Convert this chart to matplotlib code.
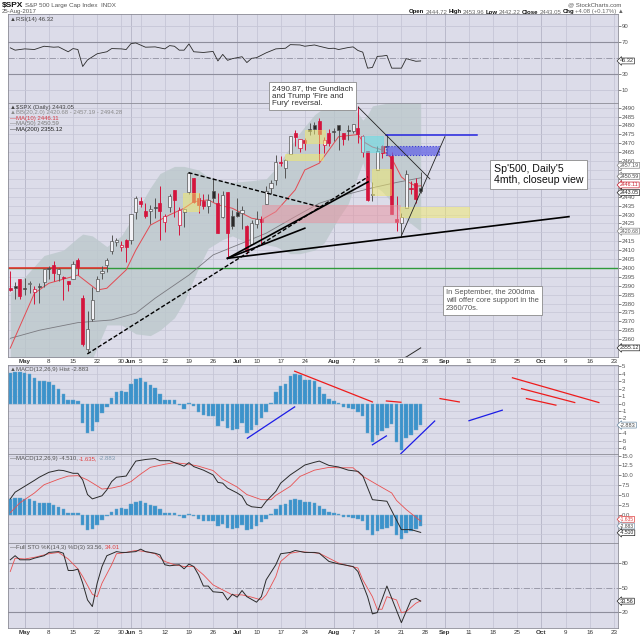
import matplotlib
matplotlib.use('Agg')
import matplotlib.pyplot as plt
from matplotlib.patches import Rectangle
import matplotlib.transforms as mtransforms

plt.rcParams['font.family'] = ['Liberation Sans', 'DejaVu Sans']

## $SPX daily, 26-Apr-2017 .. 25-Aug-2017 -> trading day index 0..85
prev_close = 2388.61
opens = [2388.98, 2389.70, 2393.68, 2388.50, 2391.05, 2386.50, 2389.79, 2392.37, 2399.94, 2401.58,
         2396.79, 2394.84, 2392.44, 2393.98, 2404.55, 2382.95, 2354.69, 2371.37, 2387.21, 2397.04,
         2401.41, 2409.54, 2414.50, 2411.67, 2415.63, 2415.65, 2431.28, 2437.83, 2431.92, 2432.03,
         2434.27, 2436.39, 2425.88, 2434.15, 2443.75, 2424.14, 2431.24, 2442.55, 2450.66, 2439.31,
         2437.40, 2434.65, 2443.32, 2436.34, 2428.70, 2442.38, 2429.20, 2431.39, 2430.78, 2423.44,
         2413.52, 2424.51, 2427.35, 2435.75, 2444.99, 2449.16, 2459.50, 2455.88, 2463.85, 2475.56,
         2467.40, 2472.04, 2477.88, 2479.97, 2482.76, 2469.12, 2475.94, 2477.10, 2480.38, 2476.03,
         2476.88, 2477.14, 2478.35, 2465.35, 2465.38, 2441.04, 2454.96, 2468.66, 2468.63, 2462.95,
         2427.64, 2425.50, 2433.75, 2444.88, 2447.91, 2444.72]
highs = [2398.16, 2392.10, 2393.68, 2394.49, 2392.93, 2389.82, 2391.43, 2399.29, 2401.36, 2403.87,
         2399.74, 2395.72, 2392.44, 2404.05, 2405.77, 2384.87, 2375.74, 2389.06, 2395.46, 2400.85,
         2405.58, 2418.71, 2416.68, 2415.26, 2415.99, 2430.06, 2440.23, 2439.55, 2436.21, 2435.28,
         2439.27, 2446.20, 2430.38, 2441.49, 2443.75, 2433.95, 2433.15, 2453.82, 2450.66, 2442.23,
         2441.62, 2441.40, 2450.42, 2441.95, 2442.97, 2442.73, 2432.71, 2439.17, 2434.90, 2424.28,
         2426.92, 2432.00, 2429.30, 2445.76, 2449.32, 2463.54, 2462.82, 2460.92, 2473.83, 2477.62,
         2472.54, 2473.10, 2481.24, 2481.69, 2484.04, 2473.53, 2477.96, 2478.51, 2480.38, 2476.03,
         2480.00, 2480.95, 2490.87, 2474.41, 2465.38, 2448.09, 2468.22, 2468.90, 2474.93, 2465.02,
         2440.27, 2430.58, 2454.77, 2448.91, 2450.39, 2453.96]
lows = [2386.78, 2382.68, 2382.36, 2384.83, 2385.82, 2379.75, 2380.35, 2389.38, 2393.92, 2392.44,
        2392.79, 2381.74, 2387.19, 2393.94, 2396.05, 2356.21, 2352.72, 2370.43, 2386.92, 2393.88,
        2397.99, 2408.01, 2412.20, 2409.43, 2403.59, 2413.54, 2427.71, 2434.32, 2428.12, 2424.75,
        2427.94, 2415.70, 2419.97, 2431.28, 2428.34, 2418.53, 2422.88, 2441.79, 2436.60, 2430.74,
        2433.27, 2431.11, 2437.03, 2419.38, 2428.02, 2405.70, 2421.65, 2428.69, 2422.05, 2407.70,
        2413.52, 2422.27, 2412.79, 2435.75, 2441.69, 2446.69, 2457.16, 2450.34, 2463.85, 2468.43,
        2465.06, 2466.32, 2474.91, 2474.94, 2459.93, 2464.66, 2468.53, 2471.14, 2466.48, 2468.85,
        2472.08, 2475.88, 2470.32, 2462.08, 2437.75, 2437.85, 2454.96, 2461.61, 2463.86, 2430.01,
        2420.69, 2417.35, 2433.67, 2441.42, 2436.19, 2442.22]
closes = [2387.45, 2388.77, 2384.20, 2388.33, 2391.17, 2388.13, 2389.52, 2399.29, 2399.38, 2396.92,
          2399.63, 2394.44, 2390.90, 2402.32, 2400.67, 2357.03, 2365.72, 2381.73, 2394.02, 2398.42,
          2404.39, 2415.07, 2415.82, 2412.91, 2411.80, 2430.06, 2439.07, 2436.10, 2429.33, 2433.14,
          2433.79, 2431.77, 2429.39, 2440.35, 2437.92, 2432.46, 2433.15, 2453.46, 2437.03, 2435.61,
          2434.50, 2438.30, 2439.07, 2419.38, 2440.69, 2419.70, 2423.41, 2429.01, 2432.54, 2409.75,
          2425.18, 2427.43, 2425.53, 2443.25, 2447.83, 2459.27, 2459.14, 2460.61, 2473.83, 2473.45,
          2472.54, 2469.91, 2477.13, 2477.83, 2475.42, 2472.10, 2470.30, 2476.35, 2477.57, 2472.16,
          2476.83, 2480.91, 2474.92, 2474.02, 2438.21, 2441.32, 2465.84, 2464.61, 2468.11, 2430.01,
          2425.55, 2428.37, 2452.51, 2444.04, 2438.97, 2443.05]

# bollinger band (20,2)
bb_x = [0, 4, 7, 11, 14, 15, 17, 20, 23, 26, 29, 31, 34, 36, 39, 41, 44, 46, 50, 53, 55, 58,
        60, 63, 65, 68, 70, 72, 73, 74, 75, 77, 79, 80, 82, 85]
bb_up = [2386, 2398, 2407, 2410, 2417, 2419, 2418, 2412, 2418, 2431, 2445, 2453, 2457, 2457,
         2455, 2451, 2449, 2448, 2449, 2450, 2456, 2468, 2476, 2486, 2490, 2492, 2492, 2487,
         2483, 2486, 2491, 2492, 2493, 2494, 2495, 2494.28]
bb_lo = [2330, 2328, 2327, 2338, 2349, 2347, 2349, 2368, 2368, 2363, 2362, 2365, 2372, 2381,
         2400, 2411, 2416, 2418, 2413, 2413, 2412, 2408, 2408, 2410, 2414, 2428, 2436, 2452,
         2459, 2450, 2447, 2443, 2437, 2434, 2427, 2420.68]

ma10_x = [0, 5, 8, 14, 18, 20, 24, 26, 29, 33, 36, 38, 41, 43, 46, 50, 52, 55, 59, 61, 64,
          68, 72, 73, 75, 77, 79, 81, 82, 84, 85]
ma10_y = [2355, 2385.8, 2391.4, 2396, 2387.6, 2388.6, 2398.9, 2410, 2424, 2429.8, 2433.5,
          2437.2, 2438.2, 2435.4, 2433.5, 2427.9, 2427, 2431.6, 2443.8, 2455, 2458.8,
          2473.7, 2474.9, 2471.1, 2467.9, 2466.3, 2461.5, 2451.1, 2448.9, 2445.9, 2446.11]
ma50_x = [0, 6, 14, 21, 26, 30, 37, 42, 48, 53, 59, 64, 70, 75, 80, 85]
ma50_y = [2360.5, 2365, 2369.3, 2370.8, 2374.6, 2383, 2396, 2407.3, 2413.9, 2419.5, 2428.8,
          2436.3, 2441.5, 2445, 2448, 2450.59]
ma200_x = [78, 82, 85]
ma200_y = [2346.5, 2350.0, 2355.12]

rsi_x = [0, 1, 3, 5, 7, 9, 10, 12, 13, 14, 15, 16, 18, 20, 21, 23, 24, 25, 26, 28, 30, 32, 33,
         34, 35, 36, 37, 38, 40, 42, 43, 44, 45, 46, 48, 49, 50, 51, 53, 55, 57, 58, 60, 61, 63,
         64, 66, 67, 68, 70, 71, 72, 73, 74, 75, 76, 77, 78, 79, 81, 82, 84, 85]
rsi_y = [62.7, 59.8, 61.4, 60.6, 64.7, 63.5, 63.9, 57.8, 61.8, 60.6, 39.4, 47.6, 55.3, 57.8,
         61.8, 61.4, 60.6, 68.0, 68.8, 63.5, 63.9, 61.4, 65.5, 64.7, 59.8, 59.8, 67.6, 57.8,
         56.9, 58.2, 46.3, 54.5, 47.1, 49.2, 51.6, 44.3, 49.6, 50.4, 56.5, 61.4, 62.2, 66.7,
         66.3, 64.7, 66.3, 64.7, 61.8, 62.2, 60.6, 63.1, 63.9, 59.4, 57.3, 37.3, 38.2, 52.0,
         52.4, 53.3, 37.3, 37.3, 49.2, 45.9, 46.32]

macd_hist = [4.05, 4.2, 4.2, 4.05, 3.97, 3.44, 2.95, 2.99, 2.86, 2.51, 1.98, 1.32, 0.44, 0.53,
             0.3, -2.65, -3.97, -3.62, -2.52, -1.32, -0.45, 0.79, 1.54, 1.67, 1.54, 2.65, 3.31,
             3.44, 2.86, 2.51, 2.07, 1.32, 0.53, 0.53, 0.44, -0.22, -0.79, 0.13, -0.36, -1.11,
             -1.55, -1.68, -1.68, -3.0, -2.34, -3.31, -3.54, -3.4, -2.65, -3.89, -3.54, -2.87,
             -1.99, -1.11, 0.09, 1.54, 2.33, 2.65, 3.62, 3.88, 3.75, 3.18, 3.1, 2.95, 2.2, 1.32,
             0.66, 0.35, 0.09, -0.53, -0.66, -0.79, -1.11, -1.68, -3.97, -5.2, -4.2, -3.62,
             -3.3, -2.8, -5.08, -6.19, -4.64, -4.2, -3.54, -2.883]
macd_x = [0, 1, 3, 5, 6, 8, 10, 11, 13, 14, 15, 16, 17, 19, 20, 21, 22, 24, 25, 26, 28, 30,
          31, 33, 34, 35, 36, 37, 38, 40, 42, 43, 44, 45, 47, 48, 49, 50, 52, 53, 55, 56, 58,
          60, 61, 63, 64, 66, 68, 70, 72, 73, 75, 78, 81, 83, 85]
macd_y = [4.0, 5.7, 7.2, 8.7, 9.5, 10.75, 11.3, 11.2, 10.5, 10.5, 8.8, 5.1, 4.0, 4.8, 6.3,
          8.4, 9.5, 9.8, 11.75, 13.6, 14.0, 14.25, 13.7, 13.7, 13.2, 12.8, 12.3, 13.2, 12.2,
          11.3, 10.1, 8.2, 8.0, 6.75, 5.5, 4.7, 2.6, 2.0, 1.75, 3.4, 5.9, 8.0, 10.1, 11.75,
          12.6, 13.3, 13.6, 12.5, 12.1, 11.3, 11.0, 9.9, 3.8, 3.4, -3.8, -3.8, -4.51]
sig_x = [0, 2, 5, 7, 10, 12, 14, 16, 18, 19, 21, 23, 25, 27, 29, 32, 34, 37, 39, 42, 44, 47,
         49, 52, 54, 55, 58, 60, 63, 66, 68, 71, 73, 76, 79, 80, 82, 85]
sig_y = [0.5, 3.0, 5.5, 7.6, 9.0, 9.8, 9.9, 8.8, 7.3, 6.5, 6.75, 7.3, 8.4, 10.3, 12.0, 12.8,
         13.2, 12.8, 12.3, 11.2, 9.0, 7.0, 5.1, 3.8, 3.8, 4.9, 7.2, 9.7, 11.3, 12.0, 11.9,
         11.9, 9.75, 7.6, 5.5, 3.6, 1.3, -1.635]

stok_x = [0, 1, 2, 4, 5, 7, 8, 10, 11, 12, 13, 14, 15, 16, 17, 18, 19, 20, 22, 23, 24, 26, 27,
          28, 30, 31, 32, 33, 35, 36, 37, 38, 39, 40, 41, 42, 44, 45, 46, 47, 48, 49, 51, 52,
          53, 55, 56, 58, 59, 61, 63, 64, 66, 68, 69, 71, 72, 74, 75, 76, 78, 81, 83, 84, 85]
stok_y = [84, 89, 84, 84, 86, 89, 93, 94, 92, 71, 71, 72.6, 55.5, 35, 27, 55.5, 75.8, 89, 94,
          93, 93, 94, 97, 94, 92, 90, 78, 76.7, 78, 73, 78.8, 75.8, 65.7, 52, 52, 45, 44, 35,
          42, 38.4, 46.5, 39, 32.3, 39, 59.6, 78, 91.4, 93, 95.4, 93, 93, 92, 82, 79, 78, 75.8,
          69.7, 39, 18, 19.6, 52, 7.3, 35, 37, 33.56]
stod_x = [0, 1, 3, 5, 8, 10, 12, 14, 15, 17, 18, 19, 21, 22, 24, 26, 28, 30, 32, 34, 36, 38,
          40, 42, 44, 46, 48, 50, 52, 53, 55, 56, 58, 60, 62, 64, 66, 68, 70, 72, 73, 75, 76,
          77, 78, 80, 81, 82, 84, 85]
stod_y = [69.7, 86, 85, 87, 91.4, 93, 85, 73, 63.6, 42, 39, 55.5, 78, 91.4, 93, 95.4, 94,
          91.4, 82, 78, 75.8, 75.8, 65.7, 53.4, 47.3, 41.2, 41.2, 38.4, 35, 41.2, 63.6, 82,
          92, 94, 93, 92, 86, 80, 76.7, 74, 59.6, 39, 23.7, 23.7, 39, 35, 19.6, 20.8, 31, 34.01]

# date axis: trading day index of each label
tick_idx = [3, 8, 13, 18, 23, 25, 27, 32, 37, 42, 47, 51, 56, 61, 67, 71, 76, 81, 86, 90,
            95, 100, 105, 110, 115, 120, 125]
tick_lab = ['May', '8', '15', '22', '30', 'Jun', '5', '12', '19', '26', 'Jul', '10', '17', '24',
            'Aug', '7', '14', '21', '28', 'Sep', '11', '18', '25', 'Oct', '9', '16', '23']
months = ['May', 'Jun', 'Jul', 'Aug', 'Sep', 'Oct']

# drawn annotations (day index, price)
trend_dashed = [((15.95, 2351.7), (74.07, 2451.1)), ((36.9, 2453.5), (64.5, 2434.0))]
trend_solid = [((45.0, 2405.4), (74.1, 2448.3)), ((45.0, 2405.4), (61.0, 2422.3)),
               ((45.0, 2405.4), (115.7, 2428.8))]
trend_thin = [((72.1, 2490.2), (86.9, 2450.0)), ((81.0, 2418.0), (90.0, 2473.7))]
blue_level = ((77.9, 96.7), 2474.7)
red_level = ((-0.5, 20), 2400)
green_level = 2400
# (x0, x1, y0, y1, colour)
zones = [(52.1, 80.8, 2426.0, 2435.4, '#e8929e'),
         (35.8, 39.1, 2432.0, 2442.3, '#f2ea6a'),
         (56.9, 64.8, 2460.8, 2463.8, '#f2ea6a'),
         (61.0, 65.2, 2470.0, 2477.5, '#f2ea6a'),
         (75.0, 78.8, 2441.0, 2455.4, '#f2ea6a'),
         (80.7, 95.0, 2428.8, 2434.1, '#f2ea6a'),
         (72.8, 77.1, 2465.1, 2474.1, '#5ee0ea')]
blue_zone = (77.8, 88.8, 2463.3, 2468.5)
hist_red = [((58.9, 4.32), (75.0, 0.21)), ((77.9, 0.34), (80.9, 0.17)), ((89, 0.66), (93, 0.21)),
            ((104, 3.44), (121.9, 0.13)), ((105.9, 1.99), (116.9, 0.13)),
            ((106.9, 0.66), (113, -0.22))]
hist_blue = [((49.1, -4.64), (58.9, -0.45)), ((75.0, -5.52), (77.9, -4.33)),
             ((80.9, -6.7), (87.9, -2.34)), ((95, -2.3), (101.9, -0.89))]

# -----------------------------------------------------------------
BG = '#dcdce9'
GRID = '#c6c6d6'
RED = '#d4143c'
DARK = '#2a2a2a'
W = 640.0

fig = plt.figure(figsize=(6.4, 6.4), dpi=100)
fig.patch.set_facecolor('white')


def box(top, bottom, share=None):
    return fig.add_axes([8 / W, 1 - bottom / W, (617.7 - 8) / W, (bottom - top) / W], sharex=share)


ax_rsi = box(14, 103)
ax = box(103, 357, ax_rsi)
ax_h = box(365, 454, ax_rsi)
ax_m = box(454, 543, ax_rsi)
ax_s = box(543, 628, ax_rsi)
panels = [ax_rsi, ax, ax_h, ax_m, ax_s]

for a in panels:
    a.set_facecolor(BG)
    a.set_xlim(-0.47, 125.8)
    for sp in a.spines.values():
        sp.set_color('#8c8c96')
        sp.set_linewidth(0.6)
    a.yaxis.tick_right()
    a.tick_params(axis='y', labelsize=4.3, length=2, pad=1, colors='#555555', width=0.5)
    a.tick_params(axis='x', length=0, labelbottom=False)
    a.set_xticks(tick_idx)
    for t, lab in zip(tick_idx, tick_lab):
        a.axvline(t, color='#b4b4c6' if lab in months else GRID, lw=0.6, zorder=0)

ax.set_xticks(tick_idx)
ax.set_xticklabels(tick_lab)
ax_s.set_xticklabels(tick_lab)
for a in (ax, ax_s):
    a.tick_params(axis='x', labelbottom=True, labelsize=4.5, pad=1.5, colors='#333333')
    for lab in a.get_xticklabels():
        if lab.get_text() in months:
            lab.set_fontweight('bold')


def yticks(a, vals, fmt, tags, gap):
    # right axis labels, hidden where a value tag sits
    a.set_yticks(vals)
    a.set_yticklabels(['' if any(abs(v - t) < gap for t in tags) else fmt % v for v in vals])


# ---- RSI
ax_rsi.set_ylim(-6.25, 105)
yticks(ax_rsi, [10, 30, 50, 70, 90], '%d', [46.32], 6)
for v in (10, 90):
    ax_rsi.axhline(v, color=GRID, lw=0.6, zorder=0)
for v in (30, 70):
    ax_rsi.axhline(v, color='#8e8e9c', lw=0.8, zorder=1)
ax_rsi.axhline(50, color='#9a9aaa', lw=0.7, ls='-.', zorder=1)
ax_rsi.plot(rsi_x, rsi_y, color=DARK, lw=0.6, zorder=3)

# ---- price
ax.set_ylim(2350.0, 2492.6)
yticks(ax, list(range(2355, 2491, 5)), '%d',
       [2457.19, 2450.59, 2446.11, 2443.05, 2420.68, 2355.12], 2.6)
for v in range(2355, 2491, 5):
    ax.axhline(v, color=GRID, lw=0.5, zorder=0)
ax.fill_between(bb_x, bb_lo, bb_up, color='#bcc8cc', alpha=0.8, lw=0, zorder=1)
ax.axhline(green_level, color='#2f9a3a', lw=1.0, zorder=2)
ax.plot(red_level[0], [red_level[1]] * 2, color='#ee2a2a', lw=1.1, zorder=2)
ax.plot(ma50_x, ma50_y, color='#7a7a80', lw=0.6, zorder=3)
ax.plot(ma200_x, ma200_y, color=DARK, lw=0.7, zorder=3)
ax.plot(ma10_x, ma10_y, color='#e34a52', lw=0.7, zorder=3)

for i in range(len(closes)):
    o, h, l, c = opens[i], highs[i], lows[i], closes[i]
    prev = closes[i - 1] if i > 0 else prev_close
    col = RED if c < prev else DARK
    edge = col if col == RED else '#555555'
    ax.vlines(i, l, h, color=edge, lw=0.7, zorder=4)
    fill = col if c < o else '#f2f2f6'
    ax.add_patch(Rectangle((i - 0.32, min(o, c)), 0.64, max(abs(c - o), 0.5),
                           fc=fill, ec=edge, lw=0.5, zorder=5))

for x0, x1, y0, y1, col in zones:
    ax.add_patch(Rectangle((x0, y0), x1 - x0, y1 - y0, fc=col, ec=col, alpha=0.5,
                           lw=0.6, zorder=6))
bx0, bx1, by0, by1 = blue_zone
ax.add_patch(Rectangle((bx0, by0), bx1 - bx0, by1 - by0, fc='#6464e6', alpha=0.75,
                       ec='#1818d0', lw=0.8, ls=':', zorder=6))
ax.plot(blue_level[0], [blue_level[1]] * 2, color='#2424e0', lw=1.1, zorder=7)
for p0, p1 in trend_dashed:
    ax.plot([p0[0], p1[0]], [p0[1], p1[1]], color='black', lw=1.0, ls=(0, (3, 1.5)), zorder=7)
for p0, p1 in trend_solid:
    ax.plot([p0[0], p1[0]], [p0[1], p1[1]], color='black', lw=1.2, zorder=7)
for p0, p1 in trend_thin:
    ax.plot([p0[0], p1[0]], [p0[1], p1[1]], color='#222222', lw=0.6, zorder=7)

# ---- MACD histogram
ax_h.set_ylim(-6.75, 5.15)
yticks(ax_h, list(range(-6, 6)), '%d', [-2.883], 0.6)
for v in range(-6, 6):
    ax_h.axhline(v, color=GRID, lw=0.5, zorder=0)
ax_h.bar(range(len(macd_hist)), macd_hist, width=0.72, color='#3c93cb', edgecolor='#6aa6cc',
         lw=0.3, zorder=3)
for p0, p1 in hist_red:
    ax_h.plot([p0[0], p1[0]], [p0[1], p1[1]], color='#ee1c1c', lw=0.9, zorder=4)
for p0, p1 in hist_blue:
    ax_h.plot([p0[0], p1[0]], [p0[1], p1[1]], color='#1c1ce6', lw=0.9, zorder=4)

# ---- MACD
ax_m.set_ylim(-7.2, 15.4)
mt = [-5.0, -2.5, 0.0, 2.5, 5.0, 7.5, 10.0, 12.5, 15.0]
yticks(ax_m, mt, '%.1f', [-1.635, -2.883, -4.51], 1.0)
for v in mt:
    ax_m.axhline(v, color=GRID, lw=0.5, zorder=0)
ax_m.bar(range(len(macd_hist)), macd_hist, width=0.72, color='#3c93cb', edgecolor='#6aa6cc',
         lw=0.3, zorder=2)
ax_m.plot(sig_x, sig_y, color='#e85050', lw=0.6, zorder=3)
ax_m.plot(macd_x, macd_y, color=DARK, lw=0.7, zorder=4)

# ---- full stochastics
ax_s.set_ylim(0.8, 104.5)
yticks(ax_s, [20, 50, 80], '%d', [33.56], 6)
for v in (20, 80):
    ax_s.axhline(v, color='#8e8e9c', lw=0.8, zorder=1)
ax_s.axhline(50, color='#9a9aaa', lw=0.7, ls='-.', zorder=1)
ax_s.plot(stod_x, stod_y, color='#e85050', lw=0.6, zorder=3)
ax_s.plot(stok_x, stok_y, color=DARK, lw=0.7, zorder=4)


# value tags on the right edge
def tag(a, v, s, col, tcol=None, size=4.0):
    tr = mtransforms.blended_transform_factory(a.transAxes, a.transData)
    a.text(1.004, v, s, transform=tr, fontsize=size, color=tcol or col, va='center', ha='left',
           clip_on=False, zorder=10,
           bbox=dict(boxstyle='larrow,pad=0.08', fc='white', ec=col, lw=0.5))


tag(ax_rsi, 46.32, '46.32', '#333333')
tag(ax, 2457.6, '2457.19', '#888888', '#555555', 3.8)
tag(ax, 2451.4, '2450.59', '#777777', '#444444', 3.8)
tag(ax, 2446.6, '2446.11', '#cc2030', None, 3.8)
tag(ax, 2442.3, '2443.05', '#222222', None, 3.8)
tag(ax, 2420.68, '2420.68', '#888888', '#555555', 3.8)
tag(ax, 2355.12, '2355.12', '#222222', None, 3.8)
tag(ax_h, -2.883, '-2.883', '#6f8fa8', '#444444')
tag(ax_m, -1.2, '-1.635', '#e04040', None, 3.6)
tag(ax_m, -2.9, '-2.883', '#7f9ab0', '#444444', 3.6)
tag(ax_m, -4.6, '-4.510', '#222222', None, 3.6)
tag(ax_s, 33.56, '33.56', '#222222')

# ---- header and legends (pixel positions)
rend = fig.canvas.get_renderer()


def pieces(x, y, parts, size=4.3):
    for s, col, wt in parts:
        t = fig.text(x / W, 1 - y / W, s, color=col, fontsize=size, fontweight=wt,
                     va='center', ha='left')
        x += t.get_window_extent(renderer=rend).width + 1.2


pieces(2, 5, [('$SPX', '#111111', 'bold')], size=6)
fig.text(25 / W, 1 - 5 / W, 'S&P 500 Large Cap Index  INDX', fontsize=4.5, color='#555555',
         va='center')
fig.text(2 / W, 1 - 12 / W, '25-Aug-2017', fontsize=4.3, color='#555555', va='center')
fig.text(621 / W, 1 - 5 / W, '@ StockCharts.com', fontsize=4.3, color='#555555', va='center',
         ha='right')
pieces(409, 12, [('Open', '#111111', 'bold'), ('2444.72', '#666666', 'normal'),
                 ('High', '#111111', 'bold'), ('2453.96', '#666666', 'normal'),
                 ('Low', '#111111', 'bold'), ('2442.22', '#666666', 'normal'),
                 ('Close', '#111111', 'bold'), ('2443.05', '#666666', 'normal'),
                 ('Chg', '#111111', 'bold'), ('+4.08 (+0.17%) \u25b2', '#666666', 'normal')])

pieces(10, 19, [('\u25b2RSI(14) 46.32', '#444444', 'normal')])
pieces(10, 107, [('\u25b2$SPX (Daily) 2443.05', '#444444', 'normal')])
pieces(10, 112.7, [('\u25b2BB(20,2.0) 2420.68 - 2457.19 - 2494.28', '#8a8a8a', 'normal')])
pieces(10, 118.3, [('\u2014MA(10) 2446.11', '#d63a44', 'normal')])
pieces(10, 123.8, [('\u2014MA(50) 2450.59', '#777777', 'normal')])
pieces(10, 129.3, [('\u2014MA(200) 2355.12', '#222222', 'normal')])
pieces(10, 369, [('\u25b2MACD(12,26,9) Hist -2.883', '#555555', 'normal')])
pieces(10, 458.5, [('\u2014MACD(12,26,9) -4.510,', '#555555', 'normal'),
                   ('-1.635,', '#e04040', 'normal'), ('-2.883', '#7f9ab0', 'normal')])
pieces(10, 547.5, [('\u2014Full STO %K(14,3) %D(3) 33.56,', '#555555', 'normal'),
                   ('34.01', '#e04040', 'normal')])

# ---- text notes
note = dict(boxstyle='square,pad=0.35', fc='white', ec='#8a8a8a', lw=0.6)
fig.text(272 / W, 1 - 96 / W, "2490.87, the Gundlach\nand Trump 'Fire and\nFury' reversal.",
         fontsize=5.8, color='#333333', va='center', ha='left', linespacing=1.15, bbox=note,
         zorder=20)
fig.text(494 / W, 1 - 174.5 / W, "Sp'500, Daily'5\n4mth, closeup view", fontsize=7.6,
         color='#111111', va='center', ha='left', linespacing=1.1, bbox=note, zorder=20)
fig.text(446 / W, 1 - 300.5 / W, "In September, the 200dma\nwill offer core support in the\n2360/70s.",
         fontsize=5.4, color='#555555', va='center', ha='left', linespacing=1.2, bbox=note,
         zorder=20)

fig.savefig('out.png', dpi=100, facecolor='white')
